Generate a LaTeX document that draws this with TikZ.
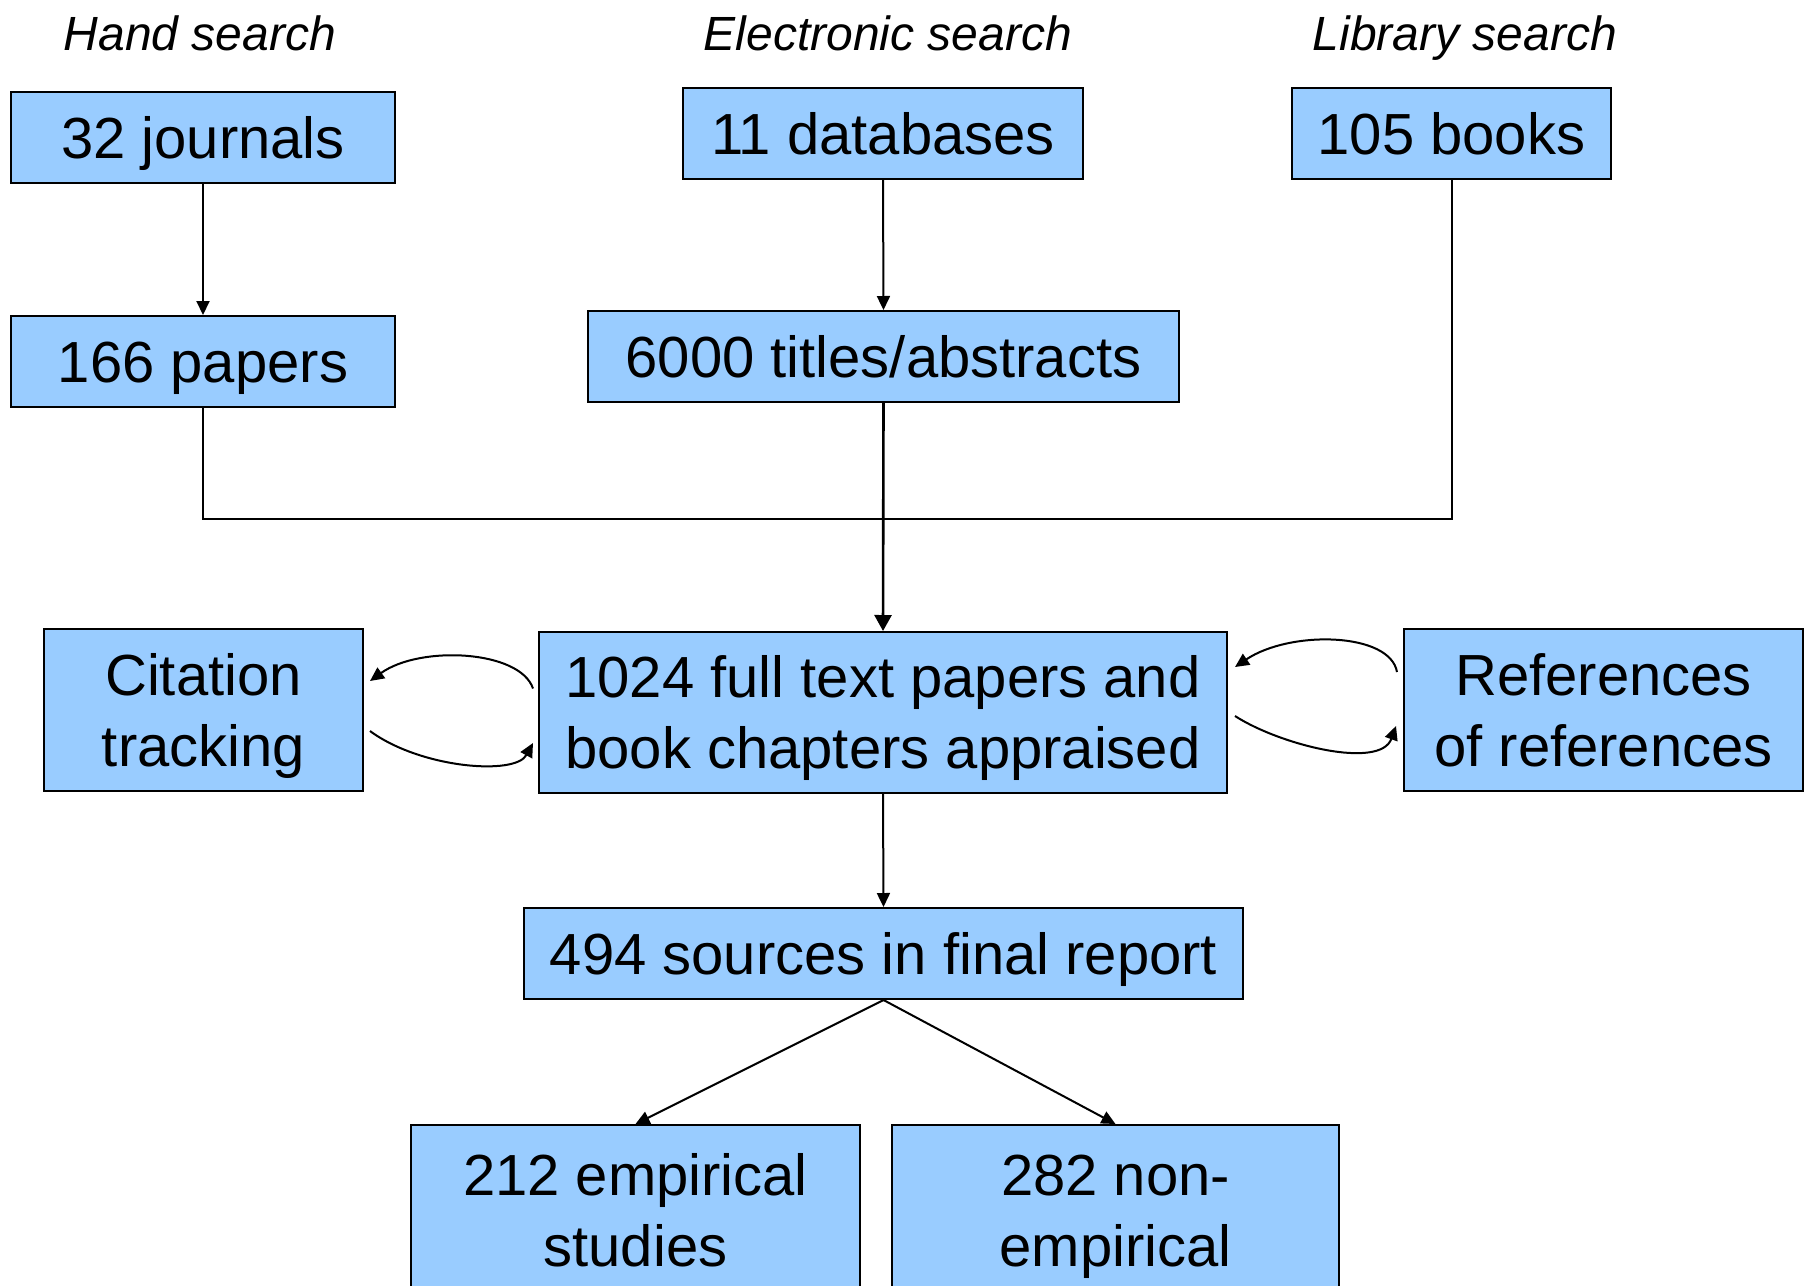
\documentclass[tikz,border=0pt]{standalone}
\usepackage{fontspec}
\setmainfont{Liberation Sans}
\usetikzlibrary{arrows.meta,calc}
\definecolor{boxblue}{HTML}{99CCFF}

\begin{document}
\begin{tikzpicture}[x=1pt,y=-1pt,line width=2pt,>={Triangle[length=14pt,width=13pt]}]
  \tikzstyle{box}=[draw=black,fill=boxblue,line width=2pt,inner sep=0pt,align=center,font=\fontsize{58}{71}\selectfont,text depth=0pt]
  \tikzstyle{source}=[font=\fontsize{48}{56}\selectfont\itshape,anchor=base]

  \useasboundingbox (0,0) rectangle (1807,1285);

  \foreach \name/\x/\y/\w/\h/\t/\txt in {journals/203/137.5/384/91/41.5/{32 journals},
      papers/203/361.5/384/91/41.5/{166 papers},
      databases/883/133.5/400/91/41.5/{11 databases},
      titles/883.5/356.5/591/91/41.5/{6000 titles/abstracts},
      books/1451.5/133.5/319/91/41.5/{105 books},
      cite/203.5/710/319/162/112.5/{Citation\\tracking},
      ftp/883/712.5/688/161/112.5/{1024 full text papers and\\book chapters appraised},
      refs/1603.5/710/399/162/112.5/{References\\of references},
      final/883.5/953.5/719/91/41.5/{494 sources in final report},
      emp/635.5/1210/449/170/112.5/{212 empirical\\studies},
      nonemp/1115.5/1210/447/170/112.5/{282 non-\\empirical}}
    \node[box,minimum width=\w pt,minimum height=\h pt,text height=\t pt] (\name) at (\x,\y) {\txt};

  \node[source] (hand) at (200,50) {Hand search};
  \node[source] (elec) at (888,50) {Electronic search};
  \node[source] (lib) at (1465,50) {Library search};

  \coordinate (join) at (883,519);

  \foreach \from/\to in {journals/papers, databases/titles, ftp/final, final/emp, final/nonemp}
    \draw[->] (\from.south) -- (\to.north);

  \draw (papers.south) |- (join) -| (books.south);
  \draw[->,line width=2.6pt,>={Triangle[length=16pt,width=17pt]}] (titles.south) -- (ftp.north);

  % loops to the side boxes
  \draw[->] ($(ftp.west)+(-5,-24)$) .. controls (520,650) and (420,645) .. ($(cite.east)+(6,-29)$);
  \draw[->] ($(cite.east)+(6,21)$) .. controls (420,768) and (515,776) .. ($(ftp.west)+(-5,30.5)$);
  \draw[->] ($(refs.west)+(-6,-38)$) .. controls (1390,632) and (1290,630) .. ($(ftp.east)+(7,-45.5)$);
  \draw[->] ($(ftp.east)+(7,3.5)$) .. controls (1280,745) and (1380,770) .. ($(refs.west)+(-7,16)$);
\end{tikzpicture}
\end{document}
